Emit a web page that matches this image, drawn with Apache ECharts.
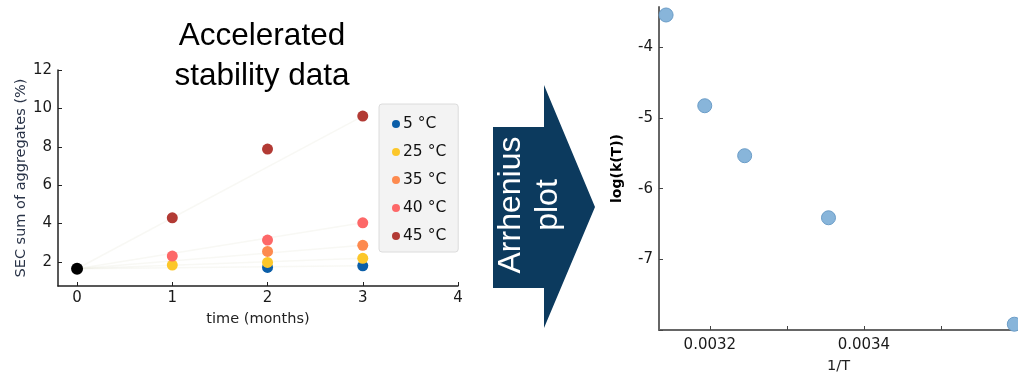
<!DOCTYPE html>
<html>
<head>
<meta charset="utf-8">
<script src="https://cdn.jsdelivr.net/npm/echarts@6/dist/echarts.min.js"></script>
<style>html,body{margin:0;padding:0;background:#fff}#c{width:1018px;height:379px}</style>
</head>
<body>
<div id="c"></div>
<script>
// ---- Left chart data (accelerated stability) ----
const months = [0, 1, 2, 3];
const startValue = 1.65;                 // t = 0 (black)
const sec5C  = [null, null, 1.72, 1.80];
const sec25C = [null, 1.84, 1.98, 2.19];
const sec35C = [null, null, 2.55, 2.87];
const sec40C = [null, 2.31, 3.14, 4.04];
const sec45C = [null, 4.30, 7.88, 9.60];
const tempLabels = ['5 °C', '25 °C', '35 °C', '40 °C', '45 °C'];
const fitEnd = [1.80, 2.19, 2.87, 4.04, 9.60];   // faint fit lines end values at t=3
const leftYTicks = [2, 4, 6, 8, 10, 12];
const leftXTicks = [0, 1, 2, 3, 4];

// ---- Right chart data (Arrhenius) ----
const invT = [0.0031432, 0.0031934, 0.0032452, 0.0033540, 0.0035952];
const logK = [-3.543, -4.827, -5.534, -6.412, -7.918];
const rightXTicks = [0.0032, 0.0033, 0.0034, 0.0035, 0.0036];
const rightXLabels = [0.0032, 0.0034];
const rightYTicks = [-8, -7, -6, -5, -4];
const rightYLabels = [-7, -6, -5, -4];

const colors = ['#0b5ea8', '#fcc72a', '#fd8a4f', '#fd6868', '#b23a34'];
const allSec = [sec5C, sec25C, sec35C, sec40C, sec45C];
const FONT = 'DejaVu Sans';

const pairs = arr => months.map((m, i) => arr[i] == null ? null : [m, arr[i]]).filter(p => p);

const series = [];
// faint fit lines
allSec.forEach((arr, k) => {
  series.push({
    type: 'line', xAxisIndex: 0, yAxisIndex: 0, silent: true, symbol: 'none',
    data: [[months[0], startValue], [months[3], fitEnd[k]]],
    lineStyle: { color: 'rgba(225,225,205,0.22)', width: 1.5 }, z: 1
  });
});
allSec.forEach((arr, k) => {
  series.push({
    name: tempLabels[k], type: 'scatter', xAxisIndex: 0, yAxisIndex: 0,
    symbolSize: 11, data: pairs(arr), itemStyle: { color: colors[k], opacity: 1 }, z: 3
  });
});
series.push({
  name: 't0', type: 'scatter', xAxisIndex: 0, yAxisIndex: 0, symbolSize: 12,
  data: [[months[0], startValue]], itemStyle: { color: '#000', opacity: 1 }, z: 4
});
series.push({
  type: 'scatter', xAxisIndex: 1, yAxisIndex: 1, symbolSize: 14,
  data: invT.map((x, i) => [x, logK[i]]),
  itemStyle: { color: '#88b5da', borderColor: '#6b9dc8', borderWidth: 1, opacity: 1 }, z: 3
});

const axisTxt = { fontFamily: FONT, fontSize: 15, color: '#1a1a1a' };

const chart = echarts.init(document.getElementById('c'), null, { renderer: 'canvas' });
chart.setOption({
  animation: false,
  backgroundColor: '#fff',
  title: {
    text: 'Accelerated\nstability data', left: 262, top: 16, padding: 0,
    textAlign: 'center',
    textStyle: { fontFamily: 'Liberation Sans', fontSize: 31.5, fontWeight: 'normal', color: '#000', lineHeight: 40 }
  },
  legend: {
    data: tempLabels, orient: 'vertical', left: 379, top: 104, width: 76,
    padding: [12, 12, 8, 13], itemGap: 12, itemWidth: 8, itemHeight: 8, icon: 'circle',
    backgroundColor: '#f3f3f3', borderColor: '#dcdcdc', borderWidth: 1, borderRadius: 3,
    textStyle: { fontFamily: FONT, fontSize: 15.5, color: '#111', padding: [4, 0, 0, -2] },
    selectedMode: false
  },
  grid: [
    { left: 58, top: 70, width: 400, height: 216 },
    { left: 659, top: 7, width: 359, height: 326 }
  ],
  xAxis: [
    {
      gridIndex: 0, type: 'value', min: -0.2, max: 4,
      name: 'time (months)', nameLocation: 'middle', nameGap: 26,
      nameTextStyle: { fontFamily: FONT, fontSize: 14.5, color: '#222' },
      axisLine: { show: true, onZero: false, lineStyle: { color: '#222', width: 1.5 } },
      axisTick: { show: true, inside: true, length: 4, customValues: leftXTicks, lineStyle: { color: '#222' } },
      axisLabel: Object.assign({ customValues: leftXTicks, margin: 5 }, axisTxt),
      splitLine: { show: false }
    },
    {
      gridIndex: 1, type: 'value', min: 0.003134, max: 0.0036,
      name: '1/T', nameLocation: 'middle', nameGap: 29,
      nameTextStyle: { fontFamily: FONT, fontSize: 14.5, color: '#222' },
      axisLine: { show: true, onZero: false, lineStyle: { color: '#666', width: 2 } },
      axisTick: { show: true, inside: true, length: 4, customValues: rightXTicks, lineStyle: { color: '#444' } },
      axisLabel: Object.assign({ customValues: rightXLabels, margin: 8, formatter: v => v.toFixed(4) }, axisTxt),
      splitLine: { show: false }
    }
  ],
  yAxis: [
    {
      gridIndex: 0, type: 'value', min: 0.75, max: 12,
      name: 'SEC sum of aggregates (%)', nameLocation: 'middle', nameGap: 29,
      nameTextStyle: { fontFamily: FONT, fontSize: 14.5, color: '#2a3448' },
      axisLine: { show: true, onZero: false, lineStyle: { color: '#222', width: 1.5 } },
      axisTick: { show: true, inside: true, length: 4, customValues: leftYTicks, lineStyle: { color: '#222' } },
      axisLabel: Object.assign({ customValues: leftYTicks, margin: 6 }, axisTxt),
      splitLine: { show: false }
    },
    {
      gridIndex: 1, type: 'value', min: -8, max: -3.43,
      name: 'log(k(T))', nameLocation: 'middle', nameGap: 35,
      nameTextStyle: { fontFamily: FONT, fontSize: 14, fontWeight: 'bold', color: '#000' },
      axisLine: { show: true, onZero: false, lineStyle: { color: '#666', width: 2 } },
      axisTick: { show: true, inside: true, length: 4, customValues: rightYTicks, lineStyle: { color: '#444' } },
      axisLabel: Object.assign({ customValues: rightYLabels, margin: 6 }, axisTxt),
      splitLine: { show: false }
    }
  ],
  graphic: [
    {
      type: 'polygon', z: 10,
      shape: { points: [[493, 127], [544, 127], [544, 85], [595, 207], [544, 328], [544, 288], [493, 288]] },
      style: { fill: '#0c3a5e' }
    },
    {
      type: 'text', z: 11, x: 530, y: 205, rotation: Math.PI / 2,
      style: {
        text: 'Arrhenius\nplot', fill: '#fff', align: 'center', verticalAlign: 'middle',
        font: '32px "Liberation Sans"', lineHeight: 37
      }
    }
  ],
  series: series
});
</script>
</body>
</html>
